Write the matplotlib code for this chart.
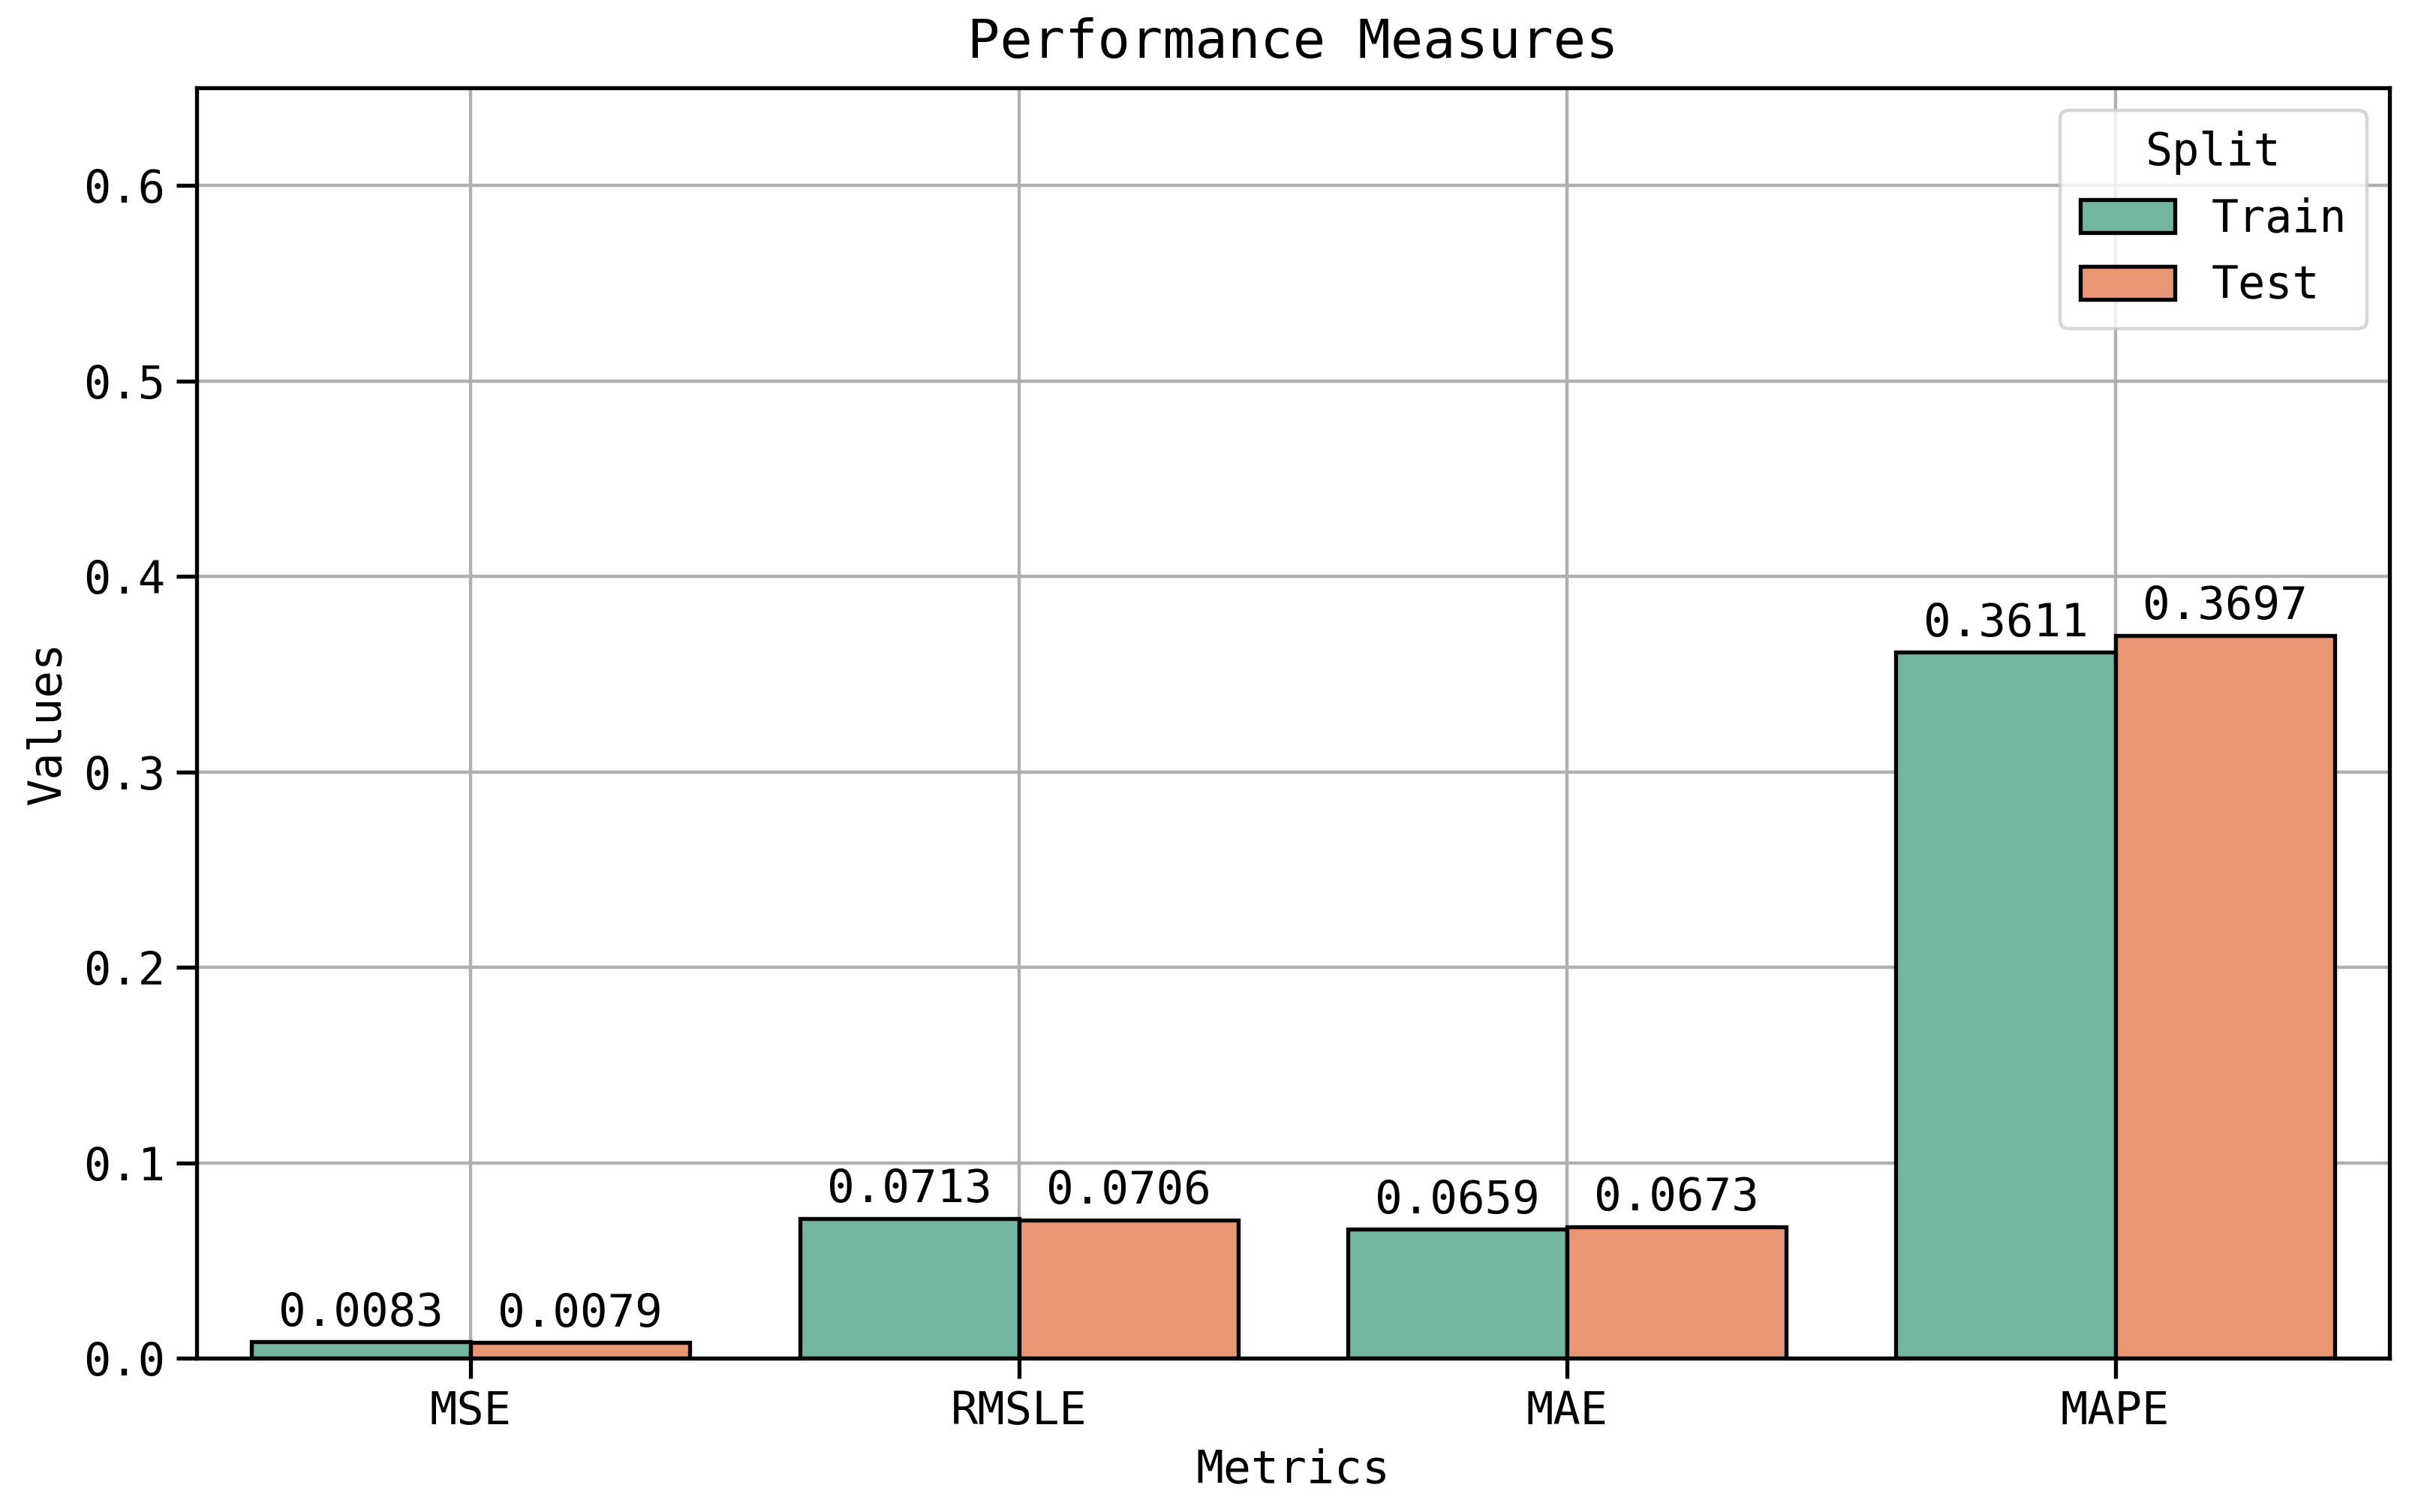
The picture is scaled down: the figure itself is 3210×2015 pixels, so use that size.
import matplotlib
matplotlib.use("Agg")
import matplotlib.pyplot as plt
import numpy as np
import seaborn as sns

metrics = ["MSE", "RMSLE", "MAE", "MAPE"]
splits = ["Train", "Test"]
train_vals = [0.0083, 0.0713, 0.0659, 0.3611]
test_vals = [0.0079, 0.0706, 0.0673, 0.3697]
yticks = [0.0, 0.1, 0.2, 0.3, 0.4, 0.5, 0.6]

plt.rcParams['font.family'] = ['DejaVu Sans Mono']
colors = [sns.desaturate("#66c2a5", 0.75), sns.desaturate("#fc8d62", 0.75)]

fig = plt.figure(figsize=(10.034, 6.297), dpi=320)
ax = fig.add_axes([0.0816, 0.1017, 0.9100, 0.8403])
x = np.arange(len(metrics))
w = 0.4
ax.set_axisbelow(True)
ax.grid(True, color="#b0b0b0", linewidth=1.0)
for i, (vals, name) in enumerate(zip([train_vals, test_vals], splits)):
    pos = x + (i - 0.5) * w
    bars = ax.bar(pos, vals, w, color=colors[i], edgecolor="black", linewidth=1.2, label=name)
    ax.bar_label(bars, labels=[f"{v:.4f}" for v in vals], fontsize=13.7, padding=2)

ax.set_xlim(-0.5, 3.5)
ax.set_ylim(0, 0.65)
ax.set_yticks(yticks)
ax.set_xticks(x)
ax.set_xticklabels(metrics)
ax.tick_params(labelsize=13.6, width=1.2, length=6)
for s in ax.spines.values():
    s.set_linewidth(1.2)
ax.set_xlabel("Metrics", fontsize=13.8)
ax.set_ylabel("Values", fontsize=13.6)
ax.set_title("Performance Measures", fontsize=16.2, pad=9)
leg = ax.legend(title="Split", loc="upper right", fontsize=13.5, title_fontsize=13.5,
                fancybox=True, handlelength=2.1, handleheight=0.75, labelspacing=0.5,
                borderpad=0.45, handletextpad=0.8, borderaxespad=0.5)
fig.savefig("out.png", dpi=320)
